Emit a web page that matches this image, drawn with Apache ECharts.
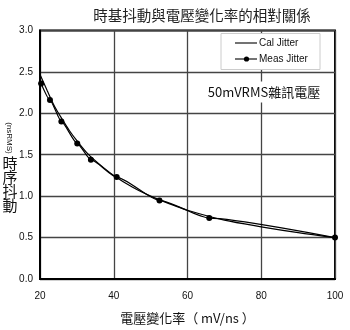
<!DOCTYPE html>
<html>
<head>
<meta charset="utf-8">
<script src="https://cdn.jsdelivr.net/npm/echarts@6/dist/echarts.min.js"></script>
<style>
  html, body { margin: 0; padding: 0; background: #fff; }
  #chart { width: 350px; height: 330px; }
</style>
</head>
<body>
<div id="chart"></div>
<script>
// Slew rate (mV/ns) vs. jitter (nsRMS)
const xTicks = [20, 40, 60, 80, 100];
const yTicks = [0, 0.5, 1.0, 1.5, 2.0, 2.5, 3.0];

const calSlew   = [20, 22, 24, 26, 28, 30, 33, 36, 40, 45, 50, 55, 60, 70, 80, 90, 100];
const calJitter = [2.47, 2.27, 2.08, 1.93, 1.79, 1.67, 1.51, 1.39, 1.25, 1.11, 1.0, 0.91, 0.83, 0.71, 0.63, 0.56, 0.50];

const measSlew   = [20.3, 22.7, 25.8, 30.1, 33.8, 40.8, 52.4, 65.9, 100];
const measJitter = [2.36, 2.16, 1.90, 1.635, 1.44, 1.23, 0.948, 0.735, 0.50];

const pairs = (xs, ys) => xs.map((x, i) => [x, ys[i]]);

const chart = echarts.init(document.getElementById('chart'));
const latin = 'Liberation Sans, Arial, sans-serif';
const cjk = '"Noto Sans CJK TC", "Noto Sans CJK SC", sans-serif';

// Legend box drawn as graphics: plain line for Cal, line + dot for Meas
const legendGraphics = [
  { type: 'rect', shape: { x: 221, y: 33.5, width: 99, height: 36 }, z: 90,
    style: { fill: '#fff', stroke: '#ccc', lineWidth: 1 } },
  { type: 'line', shape: { x1: 235, y1: 43, x2: 257, y2: 43 }, z: 91,
    style: { stroke: '#000', lineWidth: 1.1 } },
  { type: 'text', x: 259, y: 43, z: 91,
    style: { text: 'Cal Jitter', fontFamily: latin, fontSize: 10, fill: '#111', textVerticalAlign: 'middle' } },
  { type: 'line', shape: { x1: 235, y1: 59, x2: 257, y2: 59 }, z: 91,
    style: { stroke: '#000', lineWidth: 1.1 } },
  { type: 'circle', shape: { cx: 246.5, cy: 59, r: 2.6 }, z: 92, style: { fill: '#000' } },
  { type: 'text', x: 259, y: 59, z: 91,
    style: { text: 'Meas Jitter', fontFamily: latin, fontSize: 10, fill: '#111', textVerticalAlign: 'middle' } }
];

chart.setOption({
  animation: false,
  backgroundColor: '#fff',
  title: {
    text: '時基抖動與電壓變化率的相對關係',
    left: 197, top: 3, textAlign: 'center',
    textStyle: { fontFamily: cjk, fontSize: 14.5, fontWeight: 'normal', color: '#222' }
  },
  grid: {
    left: 40, right: 15, top: 30.5, bottom: 46,
    show: true, borderColor: '#000', borderWidth: 2, backgroundColor: '#fff'
  },
  xAxis: {
    type: 'value', min: xTicks[0], max: xTicks[xTicks.length - 1], interval: 20,
    axisLine: { show: true, lineStyle: { color: '#000', width: 2 } },
    axisTick: { show: false },
    axisLabel: { fontFamily: latin, fontSize: 10, color: '#111', margin: 12 },
    splitLine: { show: true, lineStyle: { color: '#444', width: 1.3 } },
    name: '電壓變化率（ mV/ns ）', nameLocation: 'middle', nameGap: 33,
    nameTextStyle: { fontFamily: cjk, fontSize: 13, color: '#111' }
  },
  yAxis: {
    type: 'value', min: yTicks[0], max: yTicks[yTicks.length - 1], interval: 0.5,
    axisLine: { show: true, lineStyle: { color: '#000', width: 2 } },
    axisTick: { show: false },
    axisLabel: { fontFamily: latin, fontSize: 10, color: '#111', margin: 7,
      formatter: v => v.toFixed(1) },
    splitLine: { show: true, lineStyle: { color: '#444', width: 1.3 } }
  },
  graphic: [
    {
      type: 'text', x: 9, y: 138, rotation: -Math.PI / 2,
      style: { text: '(nsRMS)', fontFamily: latin, fontSize: 8, fill: '#111',
        textAlign: 'center', textVerticalAlign: 'middle' }
    },
    {
      type: 'text', x: 10, y: 184,
      style: { text: '時\n序\n抖\n動', fontFamily: cjk, fontSize: 15, lineHeight: 14,
        fill: '#111', textAlign: 'center', textVerticalAlign: 'middle' }
    },
    {
      type: 'text', x: 264, y: 92, z: 100,
      style: { text: '50mVRMS雜訊電壓', fontFamily: cjk, fontSize: 13, fill: '#111',
        textAlign: 'center', textVerticalAlign: 'middle',
        backgroundColor: '#fff', padding: [4, 2, 4, 2] }
    }
  ].concat(legendGraphics),
  series: [
    {
      name: 'Cal Jitter', type: 'line', data: pairs(calSlew, calJitter),
      smooth: 0.3, showSymbol: false, symbol: 'none',
      lineStyle: { color: '#000', width: 1.2 }, itemStyle: { color: '#000' }, z: 3
    },
    {
      name: 'Meas Jitter', type: 'line', data: pairs(measSlew, measJitter),
      smooth: 0.2, smoothMonotone: 'x', symbol: 'circle', symbolSize: 6,
      lineStyle: { color: '#000', width: 1.2 }, itemStyle: { color: '#000' }, z: 4
    }
  ]
});
</script>
</body>
</html>
